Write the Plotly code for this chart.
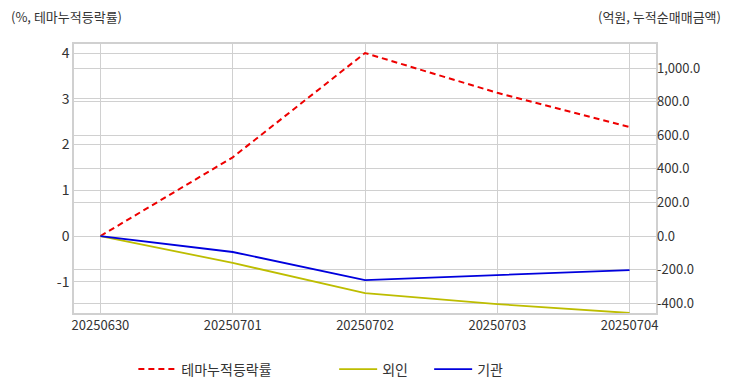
import plotly.graph_objects as go

dates = ["20250630", "20250701", "20250702", "20250703", "20250704"]
theme_cum = [0.0, 1.72, 4.0, 3.13, 2.38]
foreign_cum = [0.0, -160.0, -340.0, -405.0, -458.0]
inst_cum = [0.0, -95.0, -262.0, -232.0, -203.0]

left_ticks = [-1, 0, 1, 2, 3, 4]
right_ticks = [-400, -200, 0, 200, 400, 600, 800, 1000]

FONT = "Noto Sans CJK KR"
GRID = "#d0d0d0"
TXT = "#333333"

fig = go.Figure()
fig.add_trace(go.Scatter(x=dates, y=theme_cum, name="테마누적등락률", mode="lines",
                         line=dict(color="#ee0000", width=2, dash="6px,4px"), yaxis="y",
                         legend="legend"))
fig.add_trace(go.Scatter(x=dates, y=foreign_cum, name="외인", mode="lines",
                         line=dict(color="#bdbd00", width=1.8), yaxis="y2",
                         legend="legend2"))
fig.add_trace(go.Scatter(x=dates, y=inst_cum, name="기관", mode="lines",
                         line=dict(color="#0000dd", width=1.8), yaxis="y2",
                         legend="legend2"))

leg_common = dict(orientation="h", xanchor="left", yanchor="middle", y=-0.21,
                  font=dict(size=14, color=TXT), traceorder="normal",
                  bgcolor="rgba(0,0,0,0)", itemwidth=38)

fig.update_layout(
    width=732, height=392,
    margin=dict(l=74, r=76, t=44, b=79, autoexpand=False),
    paper_bgcolor="white", plot_bgcolor="white",
    font=dict(family=FONT, size=13, color=TXT),
    showlegend=True,
    legend=dict(x=0.102, **leg_common),
    legend2=dict(x=0.447, entrywidth=42, entrywidthmode="pixels", **leg_common),
    xaxis=dict(type="category", range=[-0.2, 4.2], showgrid=True, gridcolor=GRID,
               showline=True, linecolor=GRID, linewidth=1.5, mirror=True,
               ticks="", tickfont=dict(size=13, color=TXT), zeroline=False,
               automargin=False),
    yaxis=dict(range=[-1.683, 4.197], tickvals=left_ticks,
               ticktext=[str(v) for v in left_ticks],
               showgrid=True, gridcolor=GRID, zeroline=False,
               showline=True, linecolor=GRID, linewidth=1.5, mirror=True,
               tickfont=dict(size=14, color=TXT), ticks="", automargin=False),
    yaxis2=dict(range=[-458, 1143], overlaying="y", side="right",
                tickvals=right_ticks,
                ticktext=["{:,.1f}".format(v) for v in right_ticks],
                showgrid=True, gridcolor=GRID, zeroline=False,
                tickfont=dict(size=13, color=TXT), ticks="", automargin=False),
    annotations=[
        dict(text="(%, 테마누적등락률)", xref="paper", yref="paper", x=0, xshift=-65,
             y=1, yshift=28, xanchor="left", yanchor="middle", showarrow=False,
             font=dict(size=13, color=TXT)),
        dict(text="(억원, 누적순매매금액)", xref="paper", yref="paper", x=1, xshift=67,
             y=1, yshift=28, xanchor="right", yanchor="middle", showarrow=False,
             font=dict(size=13, color=TXT)),
    ],
)

fig.write_html("out.html", config={"displayModeBar": False},
               post_script="document.body.style.margin='0';document.body.style.overflow='hidden';")
